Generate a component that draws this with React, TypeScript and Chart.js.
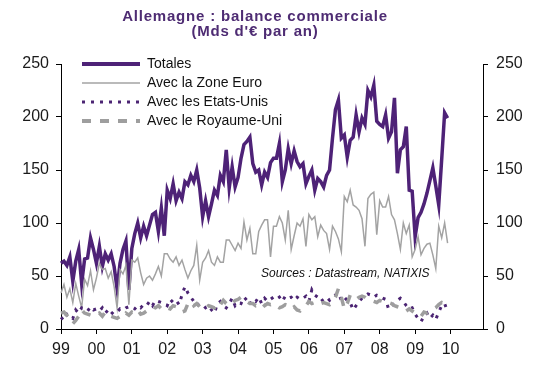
import { useEffect, useRef } from 'react';
import { Chart, registerables } from 'chart.js';

Chart.register(...registerables);

// Years on the x axis (two-digit labels); one category per month, Jan 1999 .. Dec 2010
const yearLabels = ['99', '00', '01', '02', '03', '04', '05', '06', '07', '08', '09', '10'];
const monthNames = ['01', '02', '03', '04', '05', '06', '07', '08', '09', '10', '11', '12'];
const categories = yearLabels.flatMap((y) => monthNames.map((m) => `${y}-${m}`));

// Monthly values, Jan 1999 .. Dec 2009 (Mds d'€ par an)
const totales = [
  62, 64, 60, 68, 45, 64, 75, 43, 66, 67, 86, 75,
  62, 78, 59, 71, 65, 71, 59, 38, 62, 75, 83, 37,
  76, 90, 100, 86, 97, 88, 98, 108, 110, 92, 114, 88,
  131, 123, 137, 121, 129, 123, 139, 136, 145, 139, 150, 133,
  106, 121, 106, 118, 131, 126, 145, 139, 169, 133, 153, 134,
  143, 161, 174, 177, 181, 156, 148, 150, 136, 148, 143, 157,
  161, 161, 175, 139, 150, 170, 156, 168, 158, 153, 156, 137,
  144, 150, 131, 142, 139, 134, 145, 150, 180, 207, 216, 180,
  183, 162, 178, 181, 202, 186, 199, 193, 225, 219, 230, 196,
  193, 191, 202, 180, 186, 218, 147, 169, 172, 191, 131, 130,
  87, 105, 110, 118, 128, 140, 152, 135, 117, 160, 204, 199,
];

const zoneEuro = [
  34, 42, 30, 38, 25, 43, 31, 20, 47, 41, 55, 37,
  48, 62, 56, 57, 48, 54, 40, 20, 56, 52, 60, 23,
  65, 63, 67, 53, 42, 48, 50, 46, 52, 59, 50, 71,
  71, 66, 63, 68, 60, 65, 56, 48, 55, 60, 79, 46,
  63, 67, 74, 63, 60, 68, 63, 63, 84, 84, 79, 74,
  81, 76, 101, 84, 95, 71, 71, 92, 98, 103, 103, 68,
  97, 97, 106, 100, 84, 112, 75, 88, 100, 97, 104, 78,
  108, 103, 106, 87, 98, 93, 90, 75, 97, 92, 85, 73,
  125, 120, 131, 117, 115, 112, 104, 78, 123, 127, 129, 89,
  121, 115, 115, 125, 108, 103, 90, 75, 100, 90, 98, 68,
  75, 87, 70, 76, 80, 81, 70, 57, 97, 86, 100, 81,
];

const etatsUnis = [
  11, 8, 14, 12, 10, 18, 15, 20, 19, 17, 21, 18,
  19, 17, 20, 15, 18, 14, 17, 16, 19, 18, 20, 21,
  21, 19, 22, 20, 23, 22, 26, 22, 27, 26, 25, 24,
  22, 28, 25, 27, 23, 32, 40, 34, 30, 26, 22, 24,
  23, 20, 22, 18, 15, 24, 26, 22, 20, 24, 29, 22,
  25, 24, 30, 27, 23, 28, 26, 30, 24, 29, 26, 28,
  30, 28, 30, 26, 31, 29, 30, 27, 30, 28, 29, 31,
  26, 37, 32, 30, 26, 28, 30, 27, 30, 32, 34, 27,
  30, 27, 25, 18, 22, 26, 29, 31, 33, 32, 30, 32,
  31, 29, 28, 19, 22, 24, 27, 29, 26, 22, 19, 20,
  14, 10, 7, 12, 15, 10, 13, 9, 16, 22, 24, 16,
];

const royaumeUni = [
  15, 16, 13, 10, 5, 8, 12, 18, 15, 14, 13, 15,
  14, 15, 12, 16, 13, 12, 11, 10, 12, 11, 15, 13,
  16, 15, 18, 14, 15, 17, 19, 21, 20, 22, 19, 18,
  20, 19, 22, 21, 18, 16, 17, 24, 26, 22, 24, 21,
  19, 20, 22, 21, 20, 25, 23, 27, 24, 22, 24, 27,
  28, 30, 28, 26, 24, 24, 22, 23, 25, 22, 24, 23,
  24, 22, 20, 21, 23, 22, 19, 21, 18, 17, 20, 22,
  26, 24, 25, 26, 24, 25, 24, 23, 26, 30, 38, 30,
  19, 24, 32, 30, 28, 30, 31, 30, 28, 27, 26, 25,
  27, 26, 26, 25, 24, 22, 21, 20, 18, 17, 19, 17,
  15, 14, 12, 16, 15, 17, 18, 20, 23, 25, 24, 23,
];

const seriesNames = ['Totales', 'Avec la Zone Euro', 'Avec les Etats-Unis', 'Avec le Royaume-Uni'];
const yMin = 0;
const yMax = 250;
const yStep = 50;

const titleLines = ['Allemagne : balance commerciale', "(Mds d'€ par an)"];
const sourceText = 'Sources : Datastream, NATIXIS';

const PURPLE = '#4E2277';
const GRAY = '#A3A3A3';
const FONT = "'Liberation Sans', Arial, sans-serif";

const decorPlugin = {
  id: 'decor',
  afterDraw(chart: any) {
    const ctx = chart.ctx as CanvasRenderingContext2D;
    ctx.save();
    // Title
    ctx.fillStyle = '#4E2C73';
    ctx.textAlign = 'center';
    ctx.textBaseline = 'alphabetic';
    ctx.font = `bold 15px ${FONT}`;
    (ctx as any).letterSpacing = '0.8px';
    ctx.fillText(titleLines[0], 255, 21);
    ctx.fillText(titleLines[1], 255, 36);
    (ctx as any).letterSpacing = '0px';

    // Legend
    const rows = [64, 83, 102, 121];
    chart.data.datasets.forEach((ds: any, i: number) => {
      const y = rows[i];
      ctx.beginPath();
      ctx.strokeStyle = ds.borderColor;
      ctx.lineWidth = ds.legendWidth;
      ctx.setLineDash(ds.borderDash || []);
      ctx.lineCap = 'butt';
      ctx.moveTo(82, y);
      ctx.lineTo(140, y);
      ctx.stroke();
      ctx.setLineDash([]);
      ctx.fillStyle = '#111';
      ctx.textAlign = 'left';
      ctx.textBaseline = 'middle';
      ctx.font = `14px ${FONT}`;
      ctx.fillText(ds.label, 147, y);
    });

    // Source
    ctx.font = `italic 12px ${FONT}`;
    ctx.fillStyle = '#111';
    ctx.textAlign = 'left';
    ctx.textBaseline = 'alphabetic';
    ctx.fillText(sourceText, 261, 277);
    ctx.restore();
  },
};

export default function App() {
  const ref = useRef<HTMLCanvasElement | null>(null);

  useEffect(() => {
    if (!ref.current) return;
    const tickFont = { family: FONT, size: 16 };
    const chart = new Chart(ref.current, {
      type: 'line',
      data: {
        labels: categories,
        datasets: [
          {
            label: seriesNames[0],
            data: totales,
            borderColor: PURPLE,
            borderWidth: 3.5,
            legendWidth: 4,
            pointRadius: 0,
            tension: 0,
            order: 4,
            yAxisID: 'y',
          } as any,
          {
            label: seriesNames[1],
            data: zoneEuro,
            borderColor: GRAY,
            borderWidth: 1.5,
            legendWidth: 1.5,
            pointRadius: 0,
            tension: 0,
            order: 3,
            yAxisID: 'y',
          } as any,
          {
            label: seriesNames[2],
            data: etatsUnis,
            borderColor: '#4B2473',
            borderWidth: 3,
            legendWidth: 3,
            borderDash: [3, 6],
            pointRadius: 0,
            tension: 0,
            order: 2,
            yAxisID: 'y',
          } as any,
          {
            label: seriesNames[3],
            data: royaumeUni,
            borderColor: '#9E9E9E',
            borderWidth: 3.5,
            legendWidth: 4,
            borderDash: [9, 9],
            pointRadius: 0,
            tension: 0,
            order: 1,
            yAxisID: 'y',
          } as any,
        ],
      },
      options: {
        animation: false,
        responsive: true,
        maintainAspectRatio: false,
        events: [],
        layout: { padding: { top: 64, left: 0, right: 0, bottom: 0 } },
        plugins: {
          legend: { display: false },
          title: { display: false },
          tooltip: { enabled: false },
        },
        scales: {
          x: {
            type: 'category',
            offset: false,
            grid: {
              display: true,
              drawOnChartArea: false,
              drawTicks: true,
              tickLength: 5,
              color: '#000',
            },
            border: { display: true, color: '#000', width: 1 },
            ticks: {
              autoSkip: false,
              maxRotation: 0,
              minRotation: 0,
              padding: 6,
              color: '#1a1a1a',
              font: tickFont,
              callback: (_v: any, idx: number) =>
                categories[idx].endsWith('-01') ? categories[idx].slice(0, 2) : null,
            },
            afterFit: (s: any) => {
              s.height = 39;
            },
          },
          y: {
            position: 'left',
            min: yMin,
            max: yMax,
            grid: {
              display: true,
              drawOnChartArea: false,
              drawTicks: true,
              tickLength: 5,
              color: '#000',
            },
            border: { display: true, color: '#000', width: 1 },
            ticks: { stepSize: yStep, padding: 7, color: '#1a1a1a', font: tickFont },
            afterFit: (s: any) => {
              s.width = 61;
            },
          },
          y2: {
            position: 'right',
            min: yMin,
            max: yMax,
            grid: {
              display: true,
              drawOnChartArea: false,
              drawTicks: true,
              tickLength: 5,
              color: '#000',
            },
            border: { display: true, color: '#000', width: 1 },
            ticks: { stepSize: yStep, padding: 8, color: '#1a1a1a', font: tickFont },
            afterFit: (s: any) => {
              s.width = 67;
            },
          },
        },
      } as any,
      plugins: [decorPlugin],
    });
    return () => chart.destroy();
  }, []);

  return (
    <div style={{ position: 'fixed', left: 0, top: 0, width: 550, height: 368, background: '#fff' }}>
      <canvas ref={ref} />
    </div>
  );
}
